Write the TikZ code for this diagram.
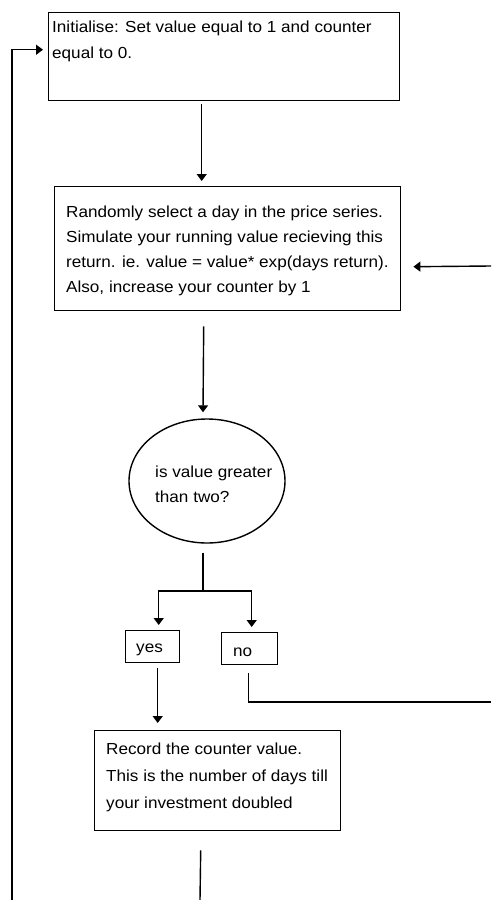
\documentclass[tikz,border=0pt]{standalone}
\usepackage{fontspec}
\setmainfont[FakeStretch=1.07]{Liberation Sans}
\usetikzlibrary{arrows.meta,shapes.geometric}

\tikzset{
  flowline/.style={line width=1.4pt, draw=black},
  arr/.style={flowline, -{Triangle[width=10pt,length=7pt]}},
  box/.style={draw=black, line width=1.4pt, rectangle, inner sep=0pt, anchor=north west},
  txt/.style={inner sep=0pt, align=left, anchor=base west, font=\fontsize{16}{25}\selectfont},
}

\begin{document}
\begin{tikzpicture}[x=1pt, y=-1pt]
  \useasboundingbox (0,0) rectangle (491,900);
  \fill[white] (0,0) rectangle (491,900);

  % process boxes
  \node[box, minimum width=351pt, minimum height=88pt] (init) at (48,12) {};
  \node[box, minimum width=346pt, minimum height=124pt] (rand) at (54,186) {};
  \node[draw=black, line width=1.4pt, ellipse, minimum width=156pt, minimum height=124pt, inner sep=0pt] (dec) at (207,481) {};
  \node[box, minimum width=54pt, minimum height=32pt] (yes) at (125,630) {};
  \node[box, minimum width=56pt, minimum height=32pt] (no) at (221,632) {};
  \node[box, minimum width=246pt, minimum height=100pt] (rec) at (94,730) {};

  % box texts (base anchor sits on the last line)
  \node[txt, font=\fontsize{16}{26}\selectfont] (initT) at (52,58)
    {Initialise: Set value equal to 1 and counter\\equal to 0.};
  \node[txt] (randT) at (66,292)
    {Randomly select a day in the price series.\\
     Simulate your running value recieving this\\
     return. ie. value = value* exp(days return).\\
     Also, increase your counter by 1};
  \node[txt] (decT) at (155,502) {is value greater\\than two?};
  \node[txt] (yesT) at (136,652) {yes};
  \node[txt] (noT) at (233,656) {no};
  \node[txt, font=\fontsize{16}{27}\selectfont] (recT) at (106,808)
    {Record the counter value.\\
     This is the number of days till\\
     your investment doubled};

  % loose ends at the picture border
  \coordinate (loopIn) at (491,266);
  \coordinate (noOut) at (491,702);
  \coordinate (recOut) at (200,900);
  \coordinate (loopStart) at (12,900);
  \coordinate (split) at (203,591);

  % connectors
  \draw[arr] ([xshift=-22.5pt,yshift=-3pt]init.south) -- ([xshift=-26pt,yshift=5pt]rand.north);
  \draw[arr] (loopIn) -- ([xshift=12pt,yshift=-18pt]rand.east);
  \draw[arr] ([xshift=-24pt,yshift=-15pt]rand.south) -- ([xshift=-4pt,yshift=6pt]dec.north);
  \draw[flowline] ([xshift=-4pt,yshift=-9pt]dec.south) -- (split);
  \draw[arr] (split) -| ([xshift=6pt,yshift=5pt]yes.north);
  \draw[arr] (split) -| ([xshift=2pt,yshift=5pt]no.north);
  \draw[flowline] ([xshift=-1pt,yshift=-8pt]no.south) |- (noOut);
  \draw[arr] ([xshift=5pt,yshift=-5pt]yes.south) -- ([xshift=-60pt,yshift=7pt]rec.north);
  \draw[flowline] ([xshift=-17pt,yshift=-19pt]rec.south) -- (recOut);
  \draw[arr] (loopStart) |- ([xshift=-5pt,yshift=7pt]init.west);
\end{tikzpicture}
\end{document}
